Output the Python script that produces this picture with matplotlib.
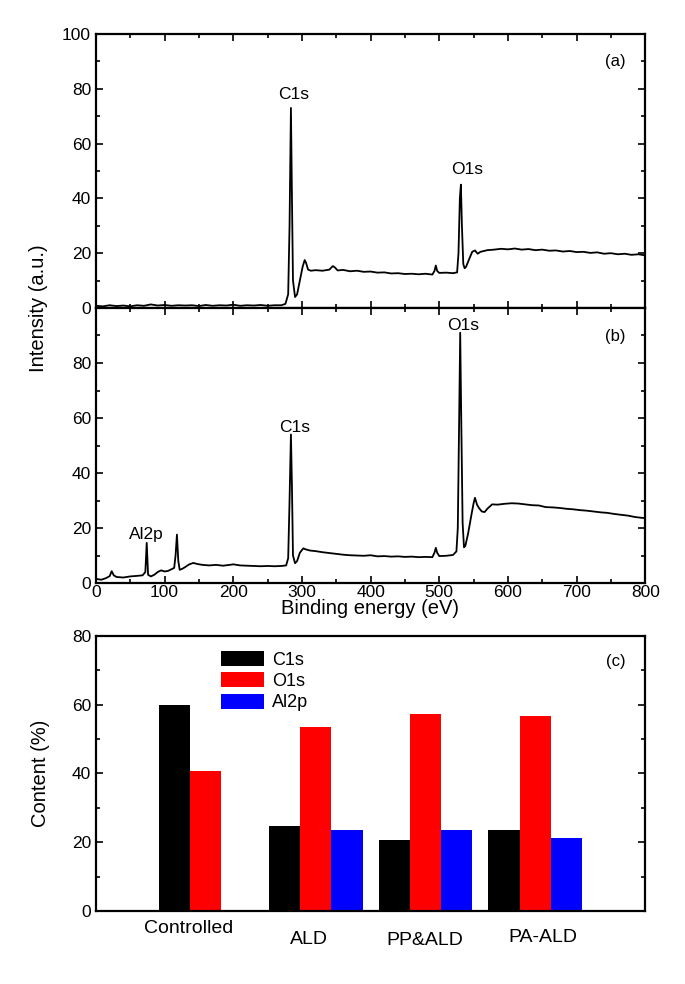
import matplotlib
matplotlib.use("Agg")
import matplotlib.pyplot as plt
from matplotlib.ticker import MultipleLocator
import matplotlib.transforms as mtransforms

plt.rcParams['font.family'] = ['Liberation Sans', 'DejaVu Sans']

# spectrum (a)
energy_a = [0, 10, 20, 30, 40, 50, 60, 70, 80, 90, 100, 110, 120, 130, 140, 150, 160, 170, 180, 190,
            200, 210, 220, 230, 240, 250, 260, 270, 276, 280, 282, 284, 285.5, 287, 290, 293, 297, 301,
            304, 306, 309, 313, 320, 330, 340, 345, 348, 352, 360, 370, 380, 390, 400, 410, 420, 430,
            440, 450, 460, 470, 480, 490, 493, 495, 497, 500, 510, 520, 526, 528, 530, 531.5, 533, 535,
            537, 539, 543, 548, 552, 556, 560, 570, 580, 590, 600, 610, 620, 630, 640, 650, 660, 670,
            680, 690, 700, 710, 720, 730, 740, 750, 760, 770, 780, 790, 800]
counts_a = [0.8, 0.6, 1.0, 0.7, 0.9, 0.6, 1.0, 0.8, 1.3, 0.9, 1.1, 0.8, 1.0, 0.9, 1.0, 0.7, 1.1, 0.8, 1.0, 0.9,
            1.2, 0.8, 1.0, 0.9, 1.1, 0.8, 1.0, 1.0, 1.5, 5, 30, 73, 40, 10, 4, 5, 10, 15,
            17.5, 16.5, 14, 13.6, 13.8, 13.6, 14, 15.3, 14.8, 13.7, 13.9, 13.4, 13.6, 13.2, 13.3, 12.9, 13.0, 12.6,
            12.7, 12.4, 12.5, 12.3, 12.5, 12.2, 13.5, 15.5, 13.5, 12.8, 12.9, 12.7, 13.0, 20, 40, 45, 30, 16,
            14.5, 15, 17.5, 20.5, 21, 19.8, 20.5, 21.1, 21.3, 21.6, 21.4, 21.7, 21.3, 21.5, 21.1, 21.3, 20.9, 21.0,
            20.6, 20.8, 20.4, 20.5, 20.1, 20.3, 19.8, 20.0, 19.6, 19.8, 19.4, 19.6, 19.2]

# spectrum (b)
energy_b = [0, 8, 15, 20, 23, 26, 30, 40, 50, 60, 68, 72, 74, 76, 80, 85, 90, 95, 100, 105, 110, 114, 116,
            118, 120, 122, 126, 130, 136, 142, 148, 155, 165, 175, 185, 195, 200, 210, 220, 230, 240, 250,
            260, 270, 277, 280, 282, 284, 285.5, 287, 290, 293, 297, 302, 306, 312, 320, 330, 340, 350, 360,
            370, 380, 390, 400, 410, 420, 430, 440, 450, 460, 470, 480, 490, 493, 495, 497, 500, 510, 520,
            525, 527, 529, 530.5, 532, 534, 536, 538, 542, 547, 550, 552, 555, 558, 562, 566, 570, 577, 585,
            595, 605, 615, 625, 635, 645, 655, 665, 675, 685, 695, 705, 715, 725, 735, 745, 755, 765, 775,
            785, 795, 800]
counts_b = [1.5, 1.2, 1.8, 2.5, 4.3, 2.8, 2.2, 2.0, 2.4, 2.6, 2.8, 4, 14.6, 3, 2.4, 3.0, 4.0, 4.6, 4.2, 4.4, 5.0, 5.5, 10,
            17.6, 8, 4.8, 5.2, 5.8, 6.8, 7.3, 6.9, 6.6, 6.4, 6.6, 6.3, 6.6, 6.8, 6.4, 6.3, 6.2, 6.1, 6.2,
            6.1, 6.2, 6.4, 9, 30, 54, 35, 10, 7.2, 8, 11, 12.6, 12.2, 11.8, 11.6, 11.2, 10.9, 10.6, 10.3,
            10.1, 10.0, 9.9, 10.1, 9.7, 9.8, 9.6, 9.7, 9.5, 9.6, 9.4, 9.5, 9.4, 11, 12.8, 11, 9.8, 9.9, 10.2,
            11.5, 20, 60, 91, 60, 22, 13, 13.5, 18, 25, 29, 31, 28.5, 27.2, 26, 25.8, 27, 28.6, 28.5,
            28.8, 29.0, 28.9, 28.6, 28.3, 28.2, 27.6, 27.5, 27.3, 27.0, 26.8, 26.5, 26.3, 26.0, 25.7, 25.5, 25.1, 24.8,
            24.5, 24.0, 23.7, 23.6]

# bar chart (c)
samples = ['Controlled', 'ALD', 'PP&ALD', 'PA-ALD']
c1s = [60.0, 24.7, 20.7, 23.5]
o1s = [40.7, 53.6, 57.4, 56.7]
al2p = [0, 23.5, 23.5, 21.3]

fig = plt.figure(figsize=(6.85, 9.84), dpi=100)
L, W = 0.140, 0.802
ax_a = fig.add_axes([L, 0.687, W, 0.2785])
ax_b = fig.add_axes([L, 0.4075, W, 0.2795])
ax_c = fig.add_axes([L, 0.0742, W, 0.2795])

tick_fs = 12.5


def style(ax):
    for s in ax.spines.values():
        s.set_linewidth(1.6)
    ax.tick_params(which='both', direction='in', top=True, right=True, width=1.2, labelsize=tick_fs)
    ax.tick_params(which='major', length=5)
    ax.tick_params(which='minor', length=3)


for ax, x, y in [(ax_a, energy_a, counts_a), (ax_b, energy_b, counts_b)]:
    ax.plot(x, y, color='black', lw=1.3)
    ax.set_xlim(0, 800)
    ax.set_ylim(0, 100)
    ax.xaxis.set_major_locator(MultipleLocator(100))
    ax.xaxis.set_minor_locator(MultipleLocator(50))
    ax.yaxis.set_minor_locator(MultipleLocator(10))
    style(ax)

ax_a.set_yticks([0, 20, 40, 60, 80, 100])
ax_a.tick_params(labelbottom=False)
ax_b.set_yticks([0, 20, 40, 60, 80])
ax_b.tick_params(axis='x', pad=1.5)

ann_fs = 12.5
ax_a.text(288, 78, 'C1s', ha='center', va='center', fontsize=ann_fs)
ax_a.text(541, 50.5, 'O1s', ha='center', va='center', fontsize=ann_fs)
ax_a.text(757, 90, '(a)', ha='center', va='center', fontsize=ann_fs - 0.5)
ax_b.text(535, 93.5, 'O1s', ha='center', va='center', fontsize=ann_fs)
ax_b.text(289, 56.5, 'C1s', ha='center', va='center', fontsize=ann_fs)
ax_b.text(73, 17.6, 'Al2p', ha='center', va='center', fontsize=ann_fs)
ax_b.text(756, 89.5, '(b)', ha='center', va='center', fontsize=ann_fs - 0.5)

fig.text(370 / 685, 1 - 608 / 984, 'Binding energy (eV)', ha='center', va='center', fontsize=14.5)
fig.text(38 / 685, 1 - 308 / 984, 'Intensity (a.u.)', ha='center', va='center', rotation=90, fontsize=14.5)
fig.text(40 / 685, 1 - 773 / 984, 'Content (%)', ha='center', va='center', rotation=90, fontsize=14.5)

# bars
pos = [1, 2, 3, 4]
w = 0.285
ax_c.bar([p - w for p in pos], c1s, w, color='black', label='C1s')
ax_c.bar(pos, o1s, w, color='#ff0000', label='O1s')
ax_c.bar([p + w for p in pos], al2p, w, color='#0000ff', label='Al2p')
ax_c.set_xlim(0, 5)
ax_c.set_ylim(0, 80)
ax_c.set_yticks([0, 20, 40, 60, 80])
ax_c.yaxis.set_minor_locator(MultipleLocator(10))
style(ax_c)
ax_c.set_xticks([])
ax_c.tick_params(bottom=False, top=False)

trans = mtransforms.blended_transform_factory(ax_c.transData, ax_c.transAxes)
label_x = [0.84, 1.94, 2.99, 4.07]
label_y = [-0.062, -0.105, -0.107, -0.098]
for s, lx, ly in zip(samples, label_x, label_y):
    ax_c.text(lx, ly, s, transform=trans, ha='center', va='center', fontsize=14)

ax_c.text(4.73, 72.7, '(c)', ha='center', va='center', fontsize=ann_fs - 0.5)
ax_c.legend(loc='upper left', bbox_to_anchor=(0.228, 0.945), frameon=False, fontsize=13,
            handlelength=2.4, handleheight=0.9, labelspacing=0.2, handletextpad=0.4, borderpad=0,
            borderaxespad=0)

fig.savefig('out.png', dpi=100)
